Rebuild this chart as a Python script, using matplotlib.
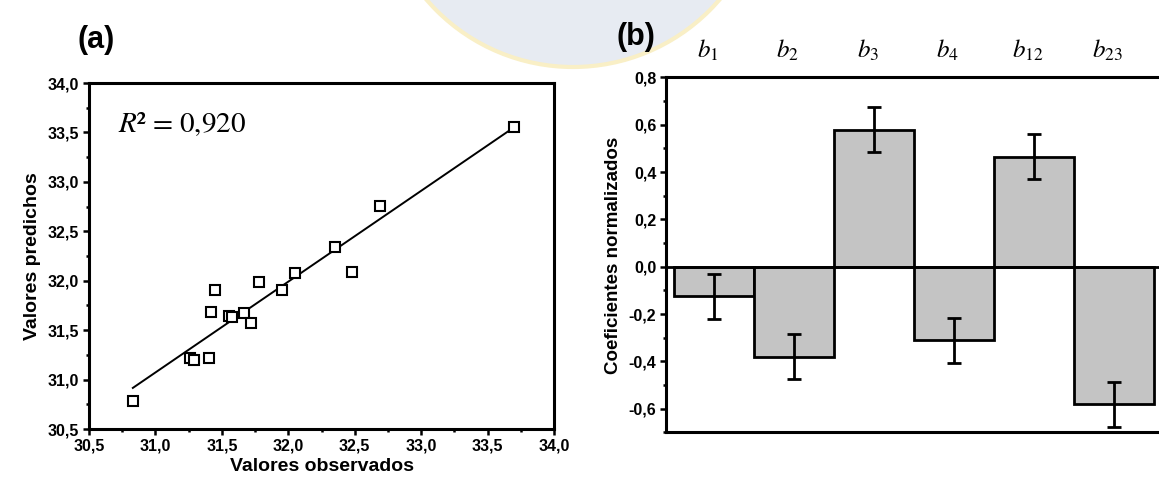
import numpy as np
import matplotlib
matplotlib.use('Agg')
import matplotlib.pyplot as plt
from matplotlib.patches import Circle
from matplotlib.ticker import MultipleLocator, FuncFormatter
import matplotlib.transforms as mtransforms

plt.rcParams['font.family'] = ['Liberation Sans', 'DejaVu Sans']
plt.rcParams['mathtext.fontset'] = 'custom'
plt.rcParams['mathtext.rm'] = 'STIXGeneral'
plt.rcParams['mathtext.it'] = 'STIXGeneral:italic'

#Observed vs predicted values (panel a)
observados = [30.83, 31.26, 31.29, 31.40, 31.42, 31.45, 31.55, 31.58, 31.67,
              31.72, 31.78, 31.95, 32.05, 32.35, 32.48, 32.69, 33.70]
predichos = [30.78, 31.22, 31.20, 31.22, 31.68, 31.91, 31.64, 31.63, 31.67,
             31.57, 31.99, 31.91, 32.08, 32.34, 32.09, 32.76, 33.55]
r2_text = '0,920'

#Normalized coefficients (panel b)
coef_names = ['1', '2', '3', '4', '12', '23']
coef_values = [-0.125, -0.380, 0.578, -0.310, 0.465, -0.581]
coef_errors = [0.095, 0.095, 0.095, 0.095, 0.094, 0.095]


#tick labels with decimal comma
def comma_fmt(decimals):
	return FuncFormatter(lambda v, pos: (('%.' + str(decimals) + 'f') % v).replace('.', ','))


W, H = 1159, 483
fig = plt.figure(figsize=(W / 100, H / 100), dpi=100)

#faint logo in the background
logo = Circle((573 / 100, (H + 126) / 100), 193 / 100, transform=fig.dpi_scale_trans,
              facecolor='#e7ebf2', edgecolor='#f9efc6', lw=3, zorder=-10)
fig.patches.append(logo)

##########################################################################################
#Panel (a)

ax1 = fig.add_axes([89 / W, 54 / H, 465 / W, 346 / H])
ax1.patch.set_alpha(0)

ax1.plot(observados, predichos, 's', mfc='white', mec='black', mew=1.5, ms=7, zorder=3)

fit = np.polyfit(observados, predichos, 1)
x_fit = np.array([min(observados), max(observados)])
ax1.plot(x_fit, np.polyval(fit, x_fit), color='black', lw=1.4, zorder=2)

ax1.set_xlim(30.5, 34.0)
ax1.set_ylim(30.5, 34.0)
ax1.xaxis.set_major_locator(MultipleLocator(0.5))
ax1.yaxis.set_major_locator(MultipleLocator(0.5))
ax1.xaxis.set_minor_locator(MultipleLocator(0.25))
ax1.yaxis.set_minor_locator(MultipleLocator(0.25))
ax1.xaxis.set_major_formatter(comma_fmt(1))
ax1.yaxis.set_major_formatter(comma_fmt(1))

ax1.text(0.062, 0.858, r'$R$² = ' + r2_text, transform=ax1.transAxes,
         fontsize=21, family='STIXGeneral', va='baseline', ha='left')

ax1.set_xlabel('Valores observados', fontsize=14, fontweight='bold', labelpad=3)
ax1.set_ylabel('Valores predichos', fontsize=14, fontweight='bold', labelpad=5)

for sp in ax1.spines.values():
	sp.set_linewidth(2.2)

ax1.tick_params(which='major', direction='out', length=4, width=1.8, labelsize=11.5, pad=3)
ax1.tick_params(which='minor', direction='out', length=2.5, width=1.8)
for lab in ax1.get_xticklabels() + ax1.get_yticklabels():
	lab.set_fontweight('bold')

fig.text(96 / W, 1 - 40 / H, '(a)', fontsize=22, fontweight='bold', ha='center', va='center')

##########################################################################################
#Panel (b)

ax2 = fig.add_axes([666 / W, 50.6 / H, 496 / W, 355 / H])
ax2.patch.set_alpha(0)

x_pos = np.arange(1, len(coef_values) + 1)
ax2.bar(x_pos, coef_values, width=1.0, color='#c4c4c4', edgecolor='black', lw=2.0, zorder=2)
ax2.errorbar(x_pos, coef_values, yerr=coef_errors, fmt='none', ecolor='black',
             elinewidth=2.0, capsize=4.7, capthick=2.0, zorder=3)
ax2.axhline(0, color='black', lw=2.0, zorder=4)

ax2.set_xlim(0.4, 6.6)
ax2.set_ylim(-0.7, 0.8)
ax2.yaxis.set_major_locator(MultipleLocator(0.2))
ax2.yaxis.set_minor_locator(MultipleLocator(0.1))
ax2.yaxis.set_major_formatter(comma_fmt(1))
ax2.set_xticks([])

trans = mtransforms.blended_transform_factory(ax2.transData, ax2.transAxes)
for xp, name in zip(x_pos, coef_names):
	ax2.text(xp - 0.08, 1.076, r'$b_{\mathit{' + name + '}}$', transform=trans,
	         fontsize=18, ha='center', va='center')

ax2.set_ylabel('Coeficientes normalizados', fontsize=13.5, fontweight='bold', labelpad=5)

for sp in ax2.spines.values():
	sp.set_linewidth(2.2)

ax2.tick_params(axis='y', which='major', direction='out', length=4, width=1.8, labelsize=11.5, pad=3)
ax2.tick_params(axis='y', which='minor', direction='out', length=2.5, width=1.8)
for lab in ax2.get_yticklabels():
	lab.set_fontweight('bold')

fig.text(636 / W, 1 - 37 / H, '(b)', fontsize=22, fontweight='bold', ha='center', va='center')

fig.savefig('out.png', dpi=100)
